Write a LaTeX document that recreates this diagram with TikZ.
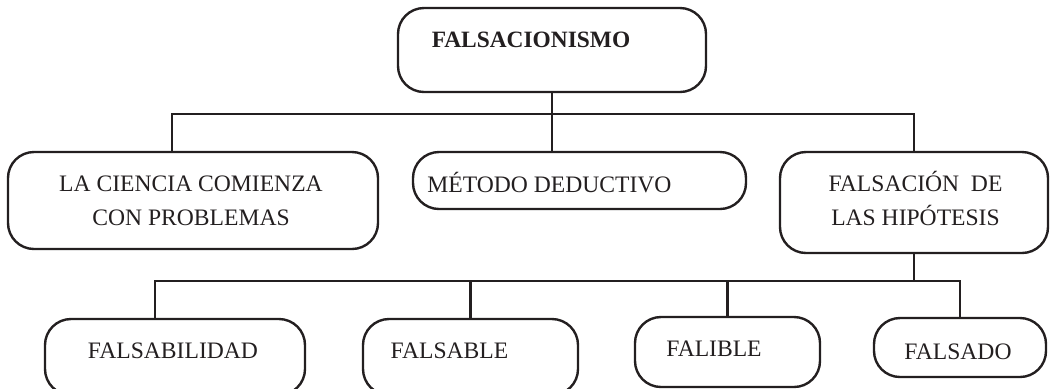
\documentclass[tikz,border=0pt]{standalone}
\usepackage{fontspec}
\setmainfont{Liberation Serif}
\definecolor{tinta}{HTML}{231F20}

\begin{document}
\begin{tikzpicture}[x=0.5pt,y=-0.5pt,
		caja/.style={draw=tinta, line width=1.2pt, rounded corners=13pt, inner sep=0pt},
		texto/.style={text=tinta, inner sep=0pt, align=center, font=\fontsize{11.8}{17}\selectfont},
		rama/.style={draw=tinta, line width=1.2pt}]
		
		\useasboundingbox (0,0) rectangle (1052,388);
		\clip (0,0) rectangle (1052,388);
		
		%Main concept
		\node[caja, minimum width=154pt, minimum height=42pt] (falsacionismo) at (552,50) {};
		\node[texto, anchor=base, font=\fontsize{11.7}{17}\selectfont\bfseries] (tFalsacionismo) at (531,47.3) {FALSACIONISMO};
		
		%Second level
		\node[caja, minimum width=185pt, minimum height=48.5pt] (ciencia) at (193,200.5) {};
		\node[texto, anchor=south] (tCiencia) at (191,225.7) {LA CIENCIA COMIENZA\\CON PROBLEMAS};
		
		\node[caja, minimum width=166.5pt, minimum height=28.5pt] (metodo) at (579.5,180.5) {};
		\node[texto, anchor=base] (tMetodo) at (549.5,192) {MÉTODO DEDUCTIVO};
		
		\node[caja, minimum width=134pt, minimum height=50.5pt] (hipotesis) at (914,202.5) {};
		\node[texto, anchor=south] (tHipotesis) at (915.5,226) {FALSACIÓN\ \ DE\\LAS HIPÓTESIS};
		
		%Third level
		\node[caja, minimum width=130pt, minimum height=38pt] (falsabilidad) at (175,357) {};
		\node[texto, anchor=base] (tFalsabilidad) at (173,358.3) {FALSABILIDAD};
		
		\node[caja, minimum width=107.5pt, minimum height=38pt] (falsable) at (470.5,357) {};
		\node[texto, anchor=base] (tFalsable) at (449.5,358) {FALSABLE};
		
		\node[caja, minimum width=92.5pt, minimum height=35pt] (falible) at (727.5,352) {};
		\node[texto, anchor=base] (tFalible) at (714,356) {FALIBLE};
		
		\node[caja, minimum width=86pt, minimum height=29.5pt] (falsado) at (960,347.5) {};
		\node[texto, anchor=base] (tFalsado) at (958,359.3) {FALSADO};
		
		%Branches from the main concept
		\coordinate (nudoA) at (552,114);
		\draw[rama] (falsacionismo.south) -- (nudoA);
		\draw[rama] ([xshift=-10.5pt]ciencia.north) |- (nudoA) -| (hipotesis.north);
		\draw[rama] (nudoA) -- (metodo.north -| nudoA);
		
		%Branches from the falsification of hypotheses
		\coordinate (nudoB) at (914,281);
		\draw[rama] (hipotesis.south) -- (nudoB);
		\draw[rama] ([xshift=-10pt]falsabilidad.north) |- (nudoB) -| (falsado.north);
		\draw[rama] (falsable.north) -- (falsable.north |- nudoB);
		\draw[rama] (falible.north) -- (falible.north |- nudoB);
		
		\end{tikzpicture}
\end{document}
